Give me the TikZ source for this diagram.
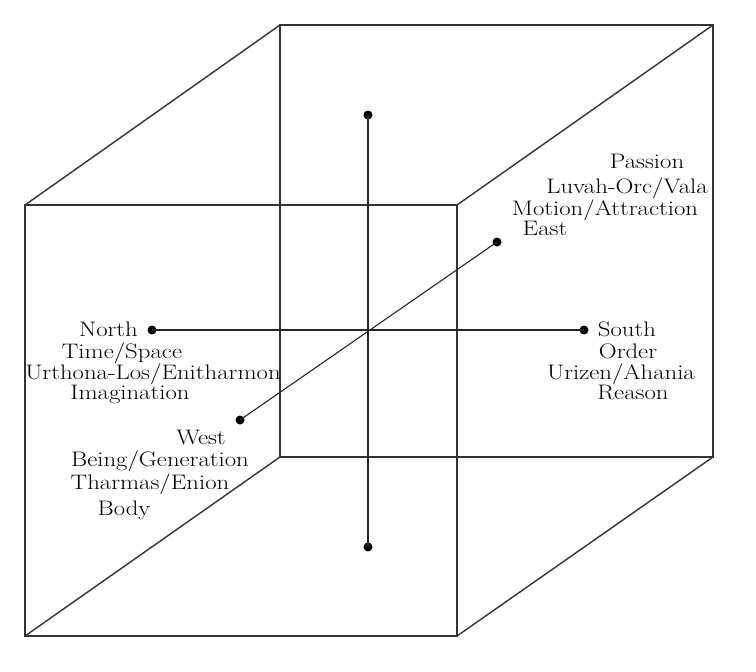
\documentclass[tikz,border=0pt]{standalone}
\usepackage{fontspec}
\setmainfont{Latin Modern Roman}[FakeStretch=1.18]
\begin{document}
\begin{tikzpicture}[x=1pt,y=-1pt,
  edge/.style={draw=black!80,line width=1.4pt},
  axis/.style={draw=black!85,line width=1.1pt},
  dot/.style={circle,fill=black,inner sep=0pt,minimum size=9pt},
  lbl/.style={anchor=base,inner sep=0pt,font=\fontsize{21}{22}\selectfont}]
\useasboundingbox (0,0) rectangle (756,672);
% cube corners
\coordinate (ftl) at (25,205);
\coordinate (ftr) at (457,205);
\coordinate (fbl) at (25,636);
\coordinate (fbr) at (457,636);
\coordinate (btl) at (280,25);
\coordinate (btr) at (713,25);
\coordinate (bbl) at (280,457);
\coordinate (bbr) at (713,457);
\draw[edge] (ftl) -- (ftr) -- (fbr) -- (fbl) -- cycle;
\draw[edge] (btl) -- (btr) -- (bbr) -- (bbl) -- cycle;
\draw[edge] (ftl) -- (btl);
\draw[edge] (ftr) -- (btr);
\draw[edge] (fbl) -- (bbl);
\draw[edge] (fbr) -- (bbr);
% axes
\node[dot] (top) at (368,115) {};
\node[dot] (bot) at (368,547) {};
\node[dot] (north) at (152,330) {};
\node[dot] (south) at (584,330) {};
\node[dot] (west) at (240,420) {};
\node[dot] (east) at (497,242) {};
\draw[axis] (top.center) -- (bot.center);
\draw[axis] (north.center) -- (south.center);
\draw[axis] (west.center) -- (east.center);
% East labels
\node[lbl] (e1) at (647,168) {Passion};
\node[lbl] (e2) at (627,193) {Luvah-Orc/Vala};
\node[lbl] (e3) at (605,215) {Motion/Attraction};
\node[lbl] (e4) at (545,235) {East};
% North labels
\node[lbl] (n1) at (108.5,336) {North};
\node[lbl] (n2) at (122,358) {Time/Space};
\node[lbl] (n3) at (153,379) {Urthona-Los/Enitharmon};
\node[lbl] (n4) at (130,399) {Imagination};
% West labels
\node[lbl] (w1) at (201,444) {West};
\node[lbl] (w2) at (160,466) {Being/Generation};
\node[lbl] (w3) at (150,489) {Tharmas/Enion};
\node[lbl] (w4) at (124,515) {Body};
% South labels
\node[lbl] (s1) at (627,336) {South};
\node[lbl] (s2) at (628,358) {Order};
\node[lbl] (s3) at (621,379) {Urizen/Ahania};
\node[lbl] (s4) at (633,399) {Reason};
\end{tikzpicture}
\end{document}
